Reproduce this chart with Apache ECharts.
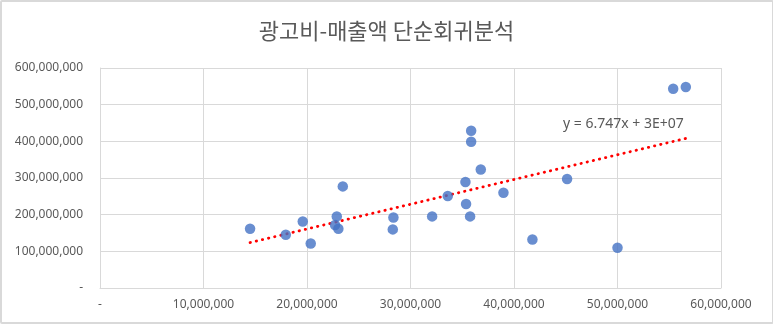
<!DOCTYPE html>
<html>
<head>
<meta charset="utf-8">
<script src="https://cdn.jsdelivr.net/npm/echarts@6/dist/echarts.min.js"></script>
<style>
  html, body { margin: 0; padding: 0; background: #fff; }
  #frame { position: absolute; left: 0; top: 0; width: 770px; height: 320px; border: 2px solid #d9d9d9; border-radius: 2px; }
  #chart { position: absolute; left: 0; top: 0; width: 773px; height: 325px; }
</style>
</head>
<body>
<div id="frame"></div>
<div id="chart"></div>
<script>
// Advertising spend (광고비) vs. sales (매출액)
const adSpend = [
  14500000, 17950000, 19590000, 20360000, 22880000, 22710000, 23030000, 23460000,
  28350000, 28290000, 32090000, 33600000, 35310000, 35370000, 35760000, 35860000,
  35860000, 36790000, 38980000, 41780000, 45130000, 50000000, 55380000, 56600000
];
const sales = [
  161700000, 145300000, 181600000, 121600000, 195300000, 171800000, 161700000, 277100000,
  192500000, 159800000, 195300000, 250900000, 289100000, 229100000, 195300000, 429000000,
  399000000, 323400000, 259900000, 132500000, 297200000, 109900000, 543500000, 548100000
];

// Linear trend: y = slope * x + intercept
const slope = 6.747;
const intercept = 26000000;

const xTicks = { min: 0, max: 60000000, interval: 10000000 };
const yTicks = { min: 0, max: 600000000, interval: 100000000 };

const titleText = '광고비-매출액 단순회귀분석';

function fmtNum(v) {
  if (v === 0) return '-';
  return v.toLocaleString('en-US');
}
function fmtIntercept(v) {
  const s = v.toExponential(0).toUpperCase(); // e.g. 3E+7
  return s.replace(/E([+-])(\d)$/, 'E$10$2');
}

const xMinData = Math.min.apply(null, adSpend);
const xMaxData = Math.max.apply(null, adSpend);
const trend = [
  [xMinData, slope * xMinData + intercept],
  [xMaxData, slope * xMaxData + intercept]
];
const eqText = 'y = ' + slope.toFixed(3) + 'x + ' + fmtIntercept(intercept);

const chart = echarts.init(document.getElementById('chart'), null, { renderer: 'canvas' });
const gridColor = '#d9d9d9';
const textColor = '#595959';
const numFont = '"Noto Sans", sans-serif';

chart.setOption({
  animation: false,
  title: {
    text: titleText,
    left: 'center',
    top: 15,
    textStyle: {
      fontFamily: '"Noto Sans CJK KR", sans-serif',
      fontSize: 22,
      fontWeight: 'normal',
      color: textColor
    }
  },
  grid: { left: 100, right: 52, top: 68, bottom: 37, containLabel: false },
  xAxis: {
    type: 'value',
    min: xTicks.min, max: xTicks.max, interval: xTicks.interval,
    axisLine: { show: true, lineStyle: { color: gridColor, width: 1 } },
    axisTick: { show: false },
    splitLine: { show: true, lineStyle: { color: gridColor, width: 1 } },
    axisLabel: {
      formatter: fmtNum, color: textColor, fontFamily: numFont, fontSize: 12, margin: 11
    }
  },
  yAxis: {
    type: 'value',
    min: yTicks.min, max: yTicks.max, interval: yTicks.interval,
    axisLine: { show: true, lineStyle: { color: gridColor, width: 1 } },
    axisTick: { show: false },
    splitLine: { show: true, lineStyle: { color: gridColor, width: 1 } },
    axisLabel: {
      formatter: fmtNum, color: textColor, fontFamily: numFont, fontSize: 12, margin: 17
    }
  },
  series: [
    {
      type: 'line',
      data: trend,
      symbol: 'none',
      silent: true,
      lineStyle: { color: '#ff0000', width: 2.8, type: [0.4, 5.9], cap: 'round' },
      z: 3
    },
    {
      type: 'scatter',
      data: adSpend.map((x, i) => [x, sales[i]]),
      symbol: 'circle',
      symbolSize: 10.5,
      itemStyle: { color: '#4472C4' },
      z: 4
    }
  ],
  graphic: [
    {
      type: 'text',
      left: 563,
      top: 117,
      style: {
        text: eqText,
        fill: textColor,
        font: '14px "Noto Sans", sans-serif'
      },
      z: 10
    }
  ]
});
</script>
</body>
</html>
